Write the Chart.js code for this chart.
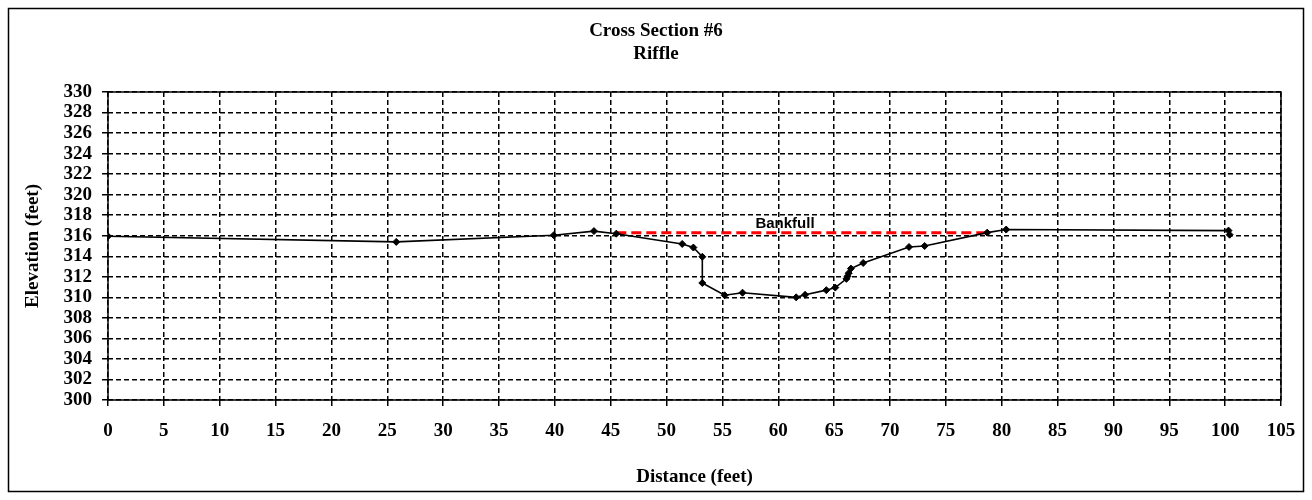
<!DOCTYPE html>
<html>
<head>
<meta charset="utf-8">
<title>Cross Section #6 - Riffle</title>
<script src="https://cdn.jsdelivr.net/npm/chart.js@4.4.0/dist/chart.umd.min.js"></script>
<style>
  html, body { margin: 0; padding: 0; background: #fff; }
  #wrap { width: 1312px; height: 500px; position: relative; }
</style>
</head>
<body>
<div id="wrap"><canvas id="xs"></canvas></div>
<script>
const distance = [0, 25.8, 39.9, 43.5, 45.5, 51.4, 52.4, 53.2, 53.2, 55.2, 56.8, 61.6, 62.4, 64.3, 65.1, 66.1, 66.2, 66.3, 66.5, 67.6, 71.7, 73.1, 78.7, 80.4, 100.3, 100.4];
const elevation = [315.95, 315.4, 316.05, 316.45, 316.2, 315.2, 314.85, 313.95, 311.4, 310.2, 310.45, 310.0, 310.25, 310.7, 310.95, 311.8, 312.05, 312.35, 312.8, 313.35, 314.9, 315.0, 316.3, 316.6, 316.5, 316.1];

const bankfullX = [45.5, 78.7];
const bankfullY = [316.3, 316.3];
const bankfullLabel = { text: "Bankfull", x: 60.6, y: 316.75 };

const xTicks = [0, 5, 10, 15, 20, 25, 30, 35, 40, 45, 50, 55, 60, 65, 70, 75, 80, 85, 90, 95, 100, 105];
const yTicks = [300, 302, 304, 306, 308, 310, 312, 314, 316, 318, 320, 322, 324, 326, 328, 330];

const SERIF = "'Liberation Serif', 'Times New Roman', serif";
const SANS = "'Liberation Sans', Arial, sans-serif";

// outer frame, plot frame, bankfull label, titles
const frame = {
  id: "frame",
  beforeDraw(chart) {
    const c = chart.ctx;
    c.save();
    c.fillStyle = "#fff";
    c.fillRect(0, 0, chart.width, chart.height);
    c.restore();
  },
  afterDraw(chart) {
    const c = chart.ctx, a = chart.chartArea;
    const xs = chart.scales.x, ys = chart.scales.y;
    c.save();
    c.strokeStyle = "#000";
    c.lineWidth = 1.5;
    c.strokeRect(8.5, 8.5, chart.width - 17, chart.height - 17);
    c.lineWidth = 1.5;
    c.strokeRect(a.left, a.top, a.right - a.left, a.bottom - a.top);

    c.fillStyle = "#000";
    c.textAlign = "center";
    c.textBaseline = "middle";
    c.font = "bold 19px " + SERIF;
    c.fillText("Cross Section #6", 656, 31);
    c.fillText("Riffle", 656, 54);

    c.font = "bold 15px " + SANS;
    c.textBaseline = "alphabetic";
    c.fillText(bankfullLabel.text, xs.getPixelForValue(bankfullLabel.x), ys.getPixelForValue(bankfullLabel.y));
    c.restore();
  }
};

new Chart(document.getElementById("xs"), {
  type: "scatter",
  data: {
    datasets: [
      {
        label: "Cross Section",
        data: distance.map((d, i) => ({ x: d, y: elevation[i] })),
        showLine: true,
        borderColor: "#000",
        backgroundColor: "#000",
        borderWidth: 1.6,
        pointStyle: "rectRot",
        pointRadius: 3.5,
        pointBorderWidth: 1,
        order: 1,
      },
      {
        label: "Bankfull",
        data: bankfullX.map((d, i) => ({ x: d, y: bankfullY[i] })),
        showLine: true,
        borderColor: "#ff0000",
        borderWidth: 3,
        borderDash: [10, 5],
        pointRadius: 0,
        order: 2,
      },
    ],
  },
  options: {
    responsive: true,
    maintainAspectRatio: false,
    animation: false,
    layout: { padding: { left: 10, right: 31, top: 92, bottom: 10 } },
    plugins: {
      legend: { display: false },
      tooltip: { enabled: false },
    },
    scales: {
      x: {
        type: "linear",
        min: 0, max: 105,
        afterBuildTicks: s => { s.ticks = xTicks.map(v => ({ value: v })); },
        afterFit: s => { s.height = 90; },
        grid: { color: "#000", lineWidth: 1.5, tickLength: 6, tickWidth: 1.5, tickBorderDash: [] },
        border: { display: false, dash: [5, 3] },
        ticks: { color: "#000", font: { family: SERIF, size: 19, weight: "bold" }, padding: 14, maxRotation: 0, autoSkip: false },
        title: { display: true, text: "Distance (feet)", color: "#000", font: { family: SERIF, size: 19, weight: "bold" }, padding: { top: 0, bottom: 2 } },
      },
      y: {
        type: "linear",
        min: 300, max: 330,
        afterBuildTicks: s => { s.ticks = yTicks.map(v => ({ value: v })); },
        afterFit: s => { s.width = 98; },
        grid: { color: "#000", lineWidth: 1.5, tickLength: 6, tickWidth: 1.5, tickBorderDash: [] },
        border: { display: false, dash: [5, 3] },
        ticks: { color: "#000", font: { family: SERIF, size: 19, weight: "bold" }, padding: 10, autoSkip: false },
        title: { display: true, text: "Elevation (feet)", color: "#000", font: { family: SERIF, size: 19, weight: "bold" }, padding: { top: 12, bottom: 0 } },
      },
    },
  },
  plugins: [frame],
});
</script>
</body>
</html>
